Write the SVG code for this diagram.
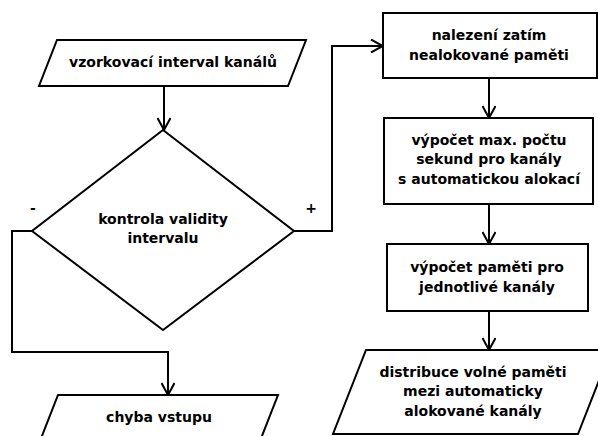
<svg xmlns="http://www.w3.org/2000/svg" width="598" height="436" viewBox="0 0 598 436">
<defs>
<style>
.shape{fill:#fff;stroke:#000;stroke-width:2}
.conn{fill:none;stroke:#000;stroke-width:2}
text{font-family:"DejaVu Sans","Liberation Sans",sans-serif;font-weight:bold;font-size:14px;fill:#000;text-anchor:middle}
</style>
<marker id="arr" viewBox="0 0 14 14" markerWidth="14" markerHeight="14" refX="13" refY="7" orient="auto" markerUnits="userSpaceOnUse">
<path d="M1,0.5 L13,7 L1,13.5" fill="none" stroke="#000" stroke-width="2"/>
</marker>
</defs>
<rect width="598" height="436" fill="#fff"/>
<g id="connectors">
<path class="conn" d="M164,86 V130" marker-end="url(#arr)"/>
<path class="conn" d="M32,231 H12 V352 H168 V395" marker-end="url(#arr)"/>
<path class="conn" d="M294,231 H332 V46 H383" marker-end="url(#arr)"/>
<path class="conn" d="M489,78 V118" marker-end="url(#arr)"/>
<path class="conn" d="M489,204 V244" marker-end="url(#arr)"/>
<path class="conn" d="M489,311 V350" marker-end="url(#arr)"/>
<text x="33" y="213">-</text>
<text x="311" y="213">+</text>
</g>
<g id="input">
<polygon class="shape" points="57,40 306,40 288,86 39,86"/>
<text x="173" y="67">vzorkovací interval kanálů</text>
</g>
<g id="check">
<polygon class="shape" points="163,130 294,231 163,330 32,231"/>
<text x="163" y="224">kontrola validity</text>
<text x="163" y="243">intervalu</text>
</g>
<g id="error">
<polygon class="shape" points="58,395 278,395 260,441 40,441"/>
<text x="159" y="422">chyba vstupu</text>
</g>
<g id="find">
<rect class="shape" x="383" y="13" width="214" height="65"/>
<text x="489" y="40">nalezení zatím</text>
<text x="489" y="60">nealokované paměti</text>
</g>
<g id="maxsec">
<rect class="shape" x="384" y="118" width="209" height="86"/>
<text x="489" y="145">výpočet max. počtu</text>
<text x="489" y="164">sekund pro kanály</text>
<text x="489" y="184">s automatickou alokací</text>
</g>
<g id="memory">
<rect class="shape" x="387" y="244" width="201" height="67"/>
<text x="487" y="272">výpočet paměti pro</text>
<text x="487" y="292">jednotlivé kanály</text>
</g>
<g id="distribute">
<polygon class="shape" points="366,350 611,350 578,434 333,434"/>
<text x="473" y="377">distribuce volné paměti</text>
<text x="473" y="396">mezi automaticky</text>
<text x="473" y="416">alokované kanály</text>
</g>
</svg>
